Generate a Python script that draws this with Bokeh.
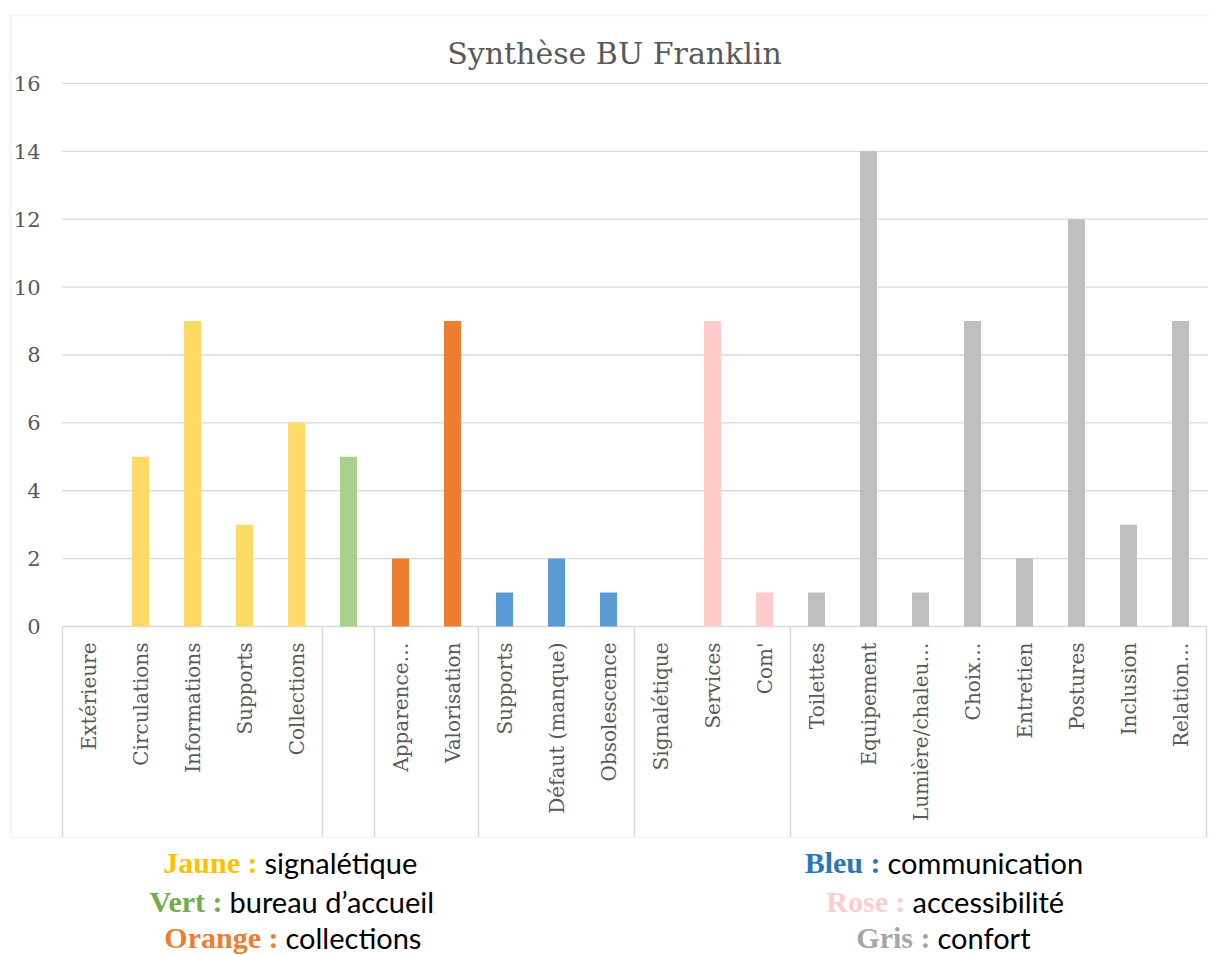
import math

from bokeh.core.properties import value
from bokeh.embed import file_html
from bokeh.models import BoxAnnotation, ColumnDataSource, FixedTicker, Range1d
from bokeh.plotting import figure
from bokeh.resources import INLINE

# ---------------------------------------------------------------- data
title_text = "Synthèse BU Franklin"

categories = [
    "Extérieure", "Circulations", "Informations", "Supports", "Collections",
    "",
    "Apparence…", "Valorisation",
    "Supports", "Défaut (manque)", "Obsolescence",
    "Signalétique", "Services", "Com'",
    "Toilettes", "Equipement", "Lumière/chaleu…", "Choix…", "Entretien",
    "Postures", "Inclusion", "Relation…",
]
counts = [0, 5, 9, 3, 6, 5, 2, 9, 1, 2, 1, 0, 9, 1, 1, 14, 1, 9, 2, 12, 3, 9]
themes = (["signalétique"] * 5 + ["accueil"] + ["collections"] * 2
          + ["communication"] * 3 + ["accessibilité"] * 3 + ["confort"] * 8)

theme_colors = {
    "signalétique": "#FFD966",
    "accueil": "#A9D18E",
    "collections": "#ED7D31",
    "communication": "#5B9BD5",
    "accessibilité": "#FFCCCC",
    "confort": "#BFBFBF",
}

y_ticks = [0, 2, 4, 6, 8, 10, 12, 14, 16]

legend_keys = ["Jaune :", "Vert :", "Orange :", "Bleu :", "Rose :", "Gris :"]
legend_meanings = ["signalétique", "bureau d’accueil", "collections",
                   "communication", "accessibilité", "confort"]
legend_key_colors = ["#FFC000", "#70AD47", "#ED7D31", "#2E75B6", "#FFCCCC", "#A6A6A6"]

# ---------------------------------------------------------------- layout
W, H = 1209, 955
AXIS_LEFT = 62           # canvas column of the category axis start
AXIS_RIGHT = 1206        # canvas column of the category axis end
CAT_PX = (AXIS_RIGHT - AXIS_LEFT) / len(categories)
UNIT_PX = 33.94          # height of one value unit
ZERO_ROW = 626           # canvas row of the value 0

def col(px):
    """canvas column -> x data coordinate"""
    return (px - AXIS_LEFT) / CAT_PX - 0.5

def row(py):
    """canvas row -> y data coordinate"""
    return (ZERO_ROW - py) / UNIT_PX

p = figure(
    width=W, height=H,
    x_range=Range1d(col(0), col(W)), y_range=Range1d(row(H), row(0)),
    output_backend="svg", toolbar_location=None,
    x_axis_location=None,
    min_border_left=0, min_border_right=0,
    min_border_top=0, min_border_bottom=0,
)
p.outline_line_color = None
p.background_fill_color = "white"
p.border_fill_color = "white"

GRID = "#D9D9D9"
LABEL_GREY = "#595959"

# value axis, pinned to the start of the category axis
p.yaxis.fixed_location = -0.5
p.yaxis.ticker = FixedTicker(ticks=y_ticks)
p.yaxis.axis_line_color = None
p.yaxis.major_tick_line_color = None
p.yaxis.minor_tick_line_color = None
p.yaxis.major_tick_out = 0
p.yaxis.major_tick_in = 0
p.yaxis.major_label_standoff = 22
p.yaxis.major_label_text_font = "DejaVu Serif"
p.yaxis.major_label_text_font_size = "21px"
p.yaxis.major_label_text_color = LABEL_GREY

# horizontal gridlines only across the category span
p.xgrid.grid_line_color = None
p.ygrid.grid_line_color = None
n = len(categories)
p.segment(x0=[-0.5] * len(y_ticks), y0=y_ticks,
          x1=[col(1207)] * len(y_ticks), y1=y_ticks,
          line_color=GRID, line_width=1.3, level="underlay")

# chart border
box_bottom = row(837)
p.add_layout(BoxAnnotation(
    left=col(10), right=col(1216), top=row(15), bottom=box_bottom,
    fill_alpha=0, line_color=GRID, line_width=1.5, level="underlay",
))

# bars
idx = list(range(n))
src = ColumnDataSource(dict(
    x=idx, count=counts, label=categories,
    color=[theme_colors[t] for t in themes],
))
p.vbar(x="x", top="count", bottom=0, width=17 / CAT_PX,
       fill_color="color", line_color=None, source=src)

# category axis frame: separators between theme groups plus both ends
edges = [-0.5] + [i - 0.5 for i in range(1, n) if themes[i] != themes[i - 1]] + [n - 0.5]
p.segment(x0=edges, y0=[0] * len(edges), x1=edges, y1=[box_bottom] * len(edges),
          line_color=GRID, line_width=1.5)

# category labels, rotated
p.text(x="x", y=row(642), text="label", source=src,
       angle=math.pi / 2, text_align="right", text_baseline="middle",
       text_font=value("DejaVu Serif"), text_font_size="20px",
       text_color=LABEL_GREY)

# title
p.text(x=[col(614)], y=[row(53)], text=[title_text],
       text_align="center", text_baseline="middle",
       text_font=value("DejaVu Serif"), text_font_size="30px",
       text_color=LABEL_GREY)

# colour key under the chart
split_cols = [257, 222, 278, 880, 905, 930]
mid_rows = [862, 901, 937, 862, 901, 937]
p.text(x=[col(c) for c in split_cols], y=[row(r) for r in mid_rows],
       text=legend_keys, text_color=legend_key_colors,
       text_align="right", text_baseline="middle",
       text_font=value("Liberation Serif"), text_font_style="bold",
       text_font_size="30px")
p.text(x=[col(c + 7) for c in split_cols], y=[row(r) for r in mid_rows],
       text=legend_meanings, text_color="#000000",
       text_align="left", text_baseline="middle",
       text_font=value("Lato"), text_font_size="29px")

open("out.html", "w").write(file_html(p, INLINE))
